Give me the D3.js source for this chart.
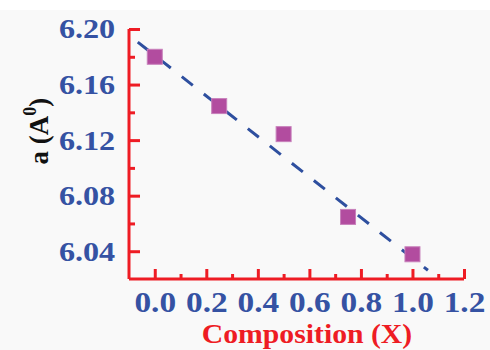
<!DOCTYPE html>
<html>
<head>
<meta charset="utf-8">
<script src="https://cdn.jsdelivr.net/npm/d3@7"></script>
<style>
  body { margin: 0; background: #fff; }
  svg { display: block; }
</style>
</head>
<body>
<script>
// measured points (lattice parameter vs composition)
var composition = [0.0, 0.25, 0.5, 0.75, 1.0];
var latticeA = [6.180, 6.1445, 6.1243, 6.0647, 6.0378];
// dashed linear fit, end points
var fitX = [-0.066, 1.06];
var fitY = [6.1906, 6.0263];
var xTicks = [0.0, 0.2, 0.4, 0.6, 0.8, 1.0, 1.2];
var yTicks = [6.04, 6.08, 6.12, 6.16, 6.20];

var W = 490, H = 350;
var x = d3.scaleLinear().domain([-0.1, 1.2]).range([129, 464]);
var y = d3.scaleLinear().domain([6.02, 6.20]).range([279, 29]);

var red = "#ee1c24", blue = "#3552a3", font = "Liberation Serif, Times New Roman, serif";
var stretch = "scale(1.15,1)";

var svg = d3.select("body").append("svg")
    .attr("width", W)
    .attr("height", H);

svg.append("rect").attr("x", 0).attr("y", 10).attr("width", W).attr("height", H - 10)
    .attr("fill", "#f9f9f9");

// minor ticks first, majors on top
var xMinor = d3.range(-0.1, 1.2001, 0.1).filter(v => !xTicks.some(t => Math.abs(t - v) < 1e-6) && v > -0.05);
var yMinor = d3.range(6.02, 6.2001, 0.02).filter(v => !yTicks.some(t => Math.abs(t - v) < 1e-6) && v > 6.03);

var gx = svg.append("g").attr("transform", `translate(0,${y(6.02)})`);
gx.call(d3.axisBottom(x).tickValues(xMinor).tickSize(-5).tickFormat(""));
gx.selectAll(".tick line").attr("stroke", red).attr("stroke-width", 3);
var gx2 = svg.append("g").attr("transform", `translate(0,${y(6.02)})`);
gx2.call(d3.axisBottom(x).tickValues(xTicks).tickSize(-10).tickPadding(12).tickFormat(d3.format(".1f")));
gx2.select(".domain").remove();
gx2.selectAll(".tick line").attr("stroke", red).attr("stroke-width", 3);
gx2.selectAll("text").attr("fill", blue).attr("font-family", font)
    .attr("font-weight", "bold").attr("font-size", 29).attr("dy", "0.71em")
    .attr("transform", stretch);
gx.select(".domain").attr("stroke", red).attr("stroke-width", 3)
    .attr("d", `M${x(-0.1)},0H${x(1.2)}`);

var gy = svg.append("g").attr("transform", `translate(${x(-0.1)},0)`);
gy.call(d3.axisLeft(y).tickValues(yMinor).tickSize(-6).tickFormat(""));
gy.selectAll(".tick line").attr("stroke", red).attr("stroke-width", 3);
var gy2 = svg.append("g").attr("transform", `translate(${x(-0.1)},0)`);
gy2.call(d3.axisLeft(y).tickValues(yTicks).tickSize(-11).tickPadding(12).tickFormat(d3.format(".2f")));
gy2.select(".domain").remove();
gy2.selectAll(".tick line").attr("stroke", red).attr("stroke-width", 3);
gy2.selectAll("text").attr("fill", blue).attr("font-family", font)
    .attr("font-weight", "bold").attr("font-size", 28)
    .attr("transform", stretch);
gy.select(".domain").attr("stroke", red).attr("stroke-width", 3)
    .attr("d", `M0,${y(6.02)}V${y(6.20)}`);

// fit line
svg.append("path")
    .datum(d3.zip(fitX, fitY))
    .attr("fill", "none")
    .attr("stroke", "#2e4f9f")
    .attr("stroke-width", 3)
    .attr("stroke-dasharray", "14,14")
    .attr("d", d3.line().x(d => x(d[0])).y(d => y(d[1])));

// markers
var s = 15;
svg.selectAll("rect.pt")
  .data(d3.zip(composition, latticeA))
  .join("rect")
    .attr("class", "pt")
    .attr("x", d => x(d[0]) - s / 2)
    .attr("y", d => y(d[1]) - s / 2)
    .attr("width", s)
    .attr("height", s)
    .attr("fill", "#b24c9f")
    .attr("stroke", "#c880bb")
    .attr("stroke-width", 1);

// axis titles
svg.append("text")
    .attr("transform", "translate(307,343) " + "scale(1.1,1)")
    .attr("text-anchor", "middle")
    .attr("fill", red).attr("font-family", font)
    .attr("font-weight", "bold").attr("font-size", 27)
    .text("Composition (X)");

var yl = svg.append("text")
    .attr("transform", "translate(48,131) rotate(-90)")
    .attr("text-anchor", "middle")
    .attr("fill", "#111").attr("font-family", font)
    .attr("font-weight", "bold").attr("font-size", 27);
yl.append("tspan").text("a (A");
yl.append("tspan").attr("font-size", 18).attr("dy", -12).text("0");
yl.append("tspan").attr("dy", 12).text(")");
</script>
</body>
</html>
